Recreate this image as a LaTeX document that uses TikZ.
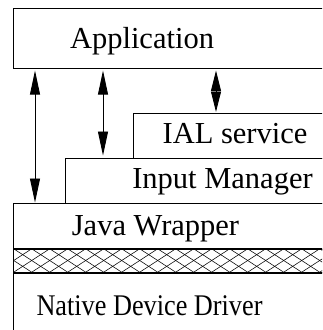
\documentclass[tikz,border=0pt]{standalone}
\usepackage{fontspec}
\setmainfont{Liberation Serif}
\usetikzlibrary{arrows.meta}
\begin{document}
\begin{tikzpicture}[x=1pt,y=-1pt,
  layer/.style={draw, line width=1.1pt, inner sep=0pt, anchor=north west, minimum width=330pt},
  lbl/.style={anchor=base, inner sep=0pt, font=\fontsize{30.5}{30.5}\selectfont},
  narrowlbl/.style={lbl, font=\fontsize{30}{30}\selectfont},
  link/.style={line width=0.9pt, {Triangle[length=24pt,width=10pt]}-{Triangle[length=24pt,width=10pt]}},
  shortlink/.style={line width=0.9pt, {Triangle[length=20.5pt,width=10pt]}-{Triangle[length=20.5pt,width=10pt]}},
  hatchline/.style={line width=0.55pt}]
\useasboundingbox (0,0) rectangle (322,330);
\clip (0,0) rectangle (322,330);

% stacked layers (open to the right)
\node[layer, minimum height=60pt] (appbox) at (13,8) {};
\node[layer, minimum height=45pt] (ialbox) at (133,113) {};
\node[layer, minimum height=45pt] (imbox) at (65,158) {};
\node[layer, minimum height=46pt] (jwbox) at (13,203) {};
\node[layer, minimum height=23pt] (band) at (13,249) {};
\node[layer, minimum height=80pt] (ndbox) at (13,272) {};

% cross-hatched native interface band
\begin{scope}
  \clip (band.north west) rectangle (band.south east);
  \foreach \x in {-40,-22,...,340} {
    \draw[hatchline] (\x,249) -- (\x+35.4,272);
    \draw[hatchline] (\x,272) -- (\x+35.4,249);
  }
\end{scope}
\draw[line width=1.1pt] (band.north west) -- (band.north east);
\draw[line width=1.1pt] (band.south west) -- (band.south east);

% labels
\node[lbl] (app) at (142,48) {Application};
\node[lbl] (ial) at (235,143.5) {IAL service};
\node[lbl] (im) at (222.5,188.5) {Input Manager};
\node[lbl] (jw) at (155.5,235) {Java Wrapper};
\node[narrowlbl] (nd) at (149.5,315) {\scalebox{0.875}[1]{Native Device Driver}};

% call paths from the application down the stack
\coordinate (colA) at (35,0);
\coordinate (colB) at (103,0);
\coordinate (colC) at (216,0);
\draw[link] ([yshift=-1.5pt]colA |- appbox.south) -- ([yshift=0.5pt]colA |- jwbox.north);
\draw[link] ([yshift=-1.5pt]colB |- appbox.south) -- ([yshift=2.5pt]colB |- imbox.north);
\draw[shortlink] ([yshift=-1.5pt]colC |- appbox.south) -- ([yshift=1pt]colC |- ialbox.north);
\end{tikzpicture}
\end{document}
